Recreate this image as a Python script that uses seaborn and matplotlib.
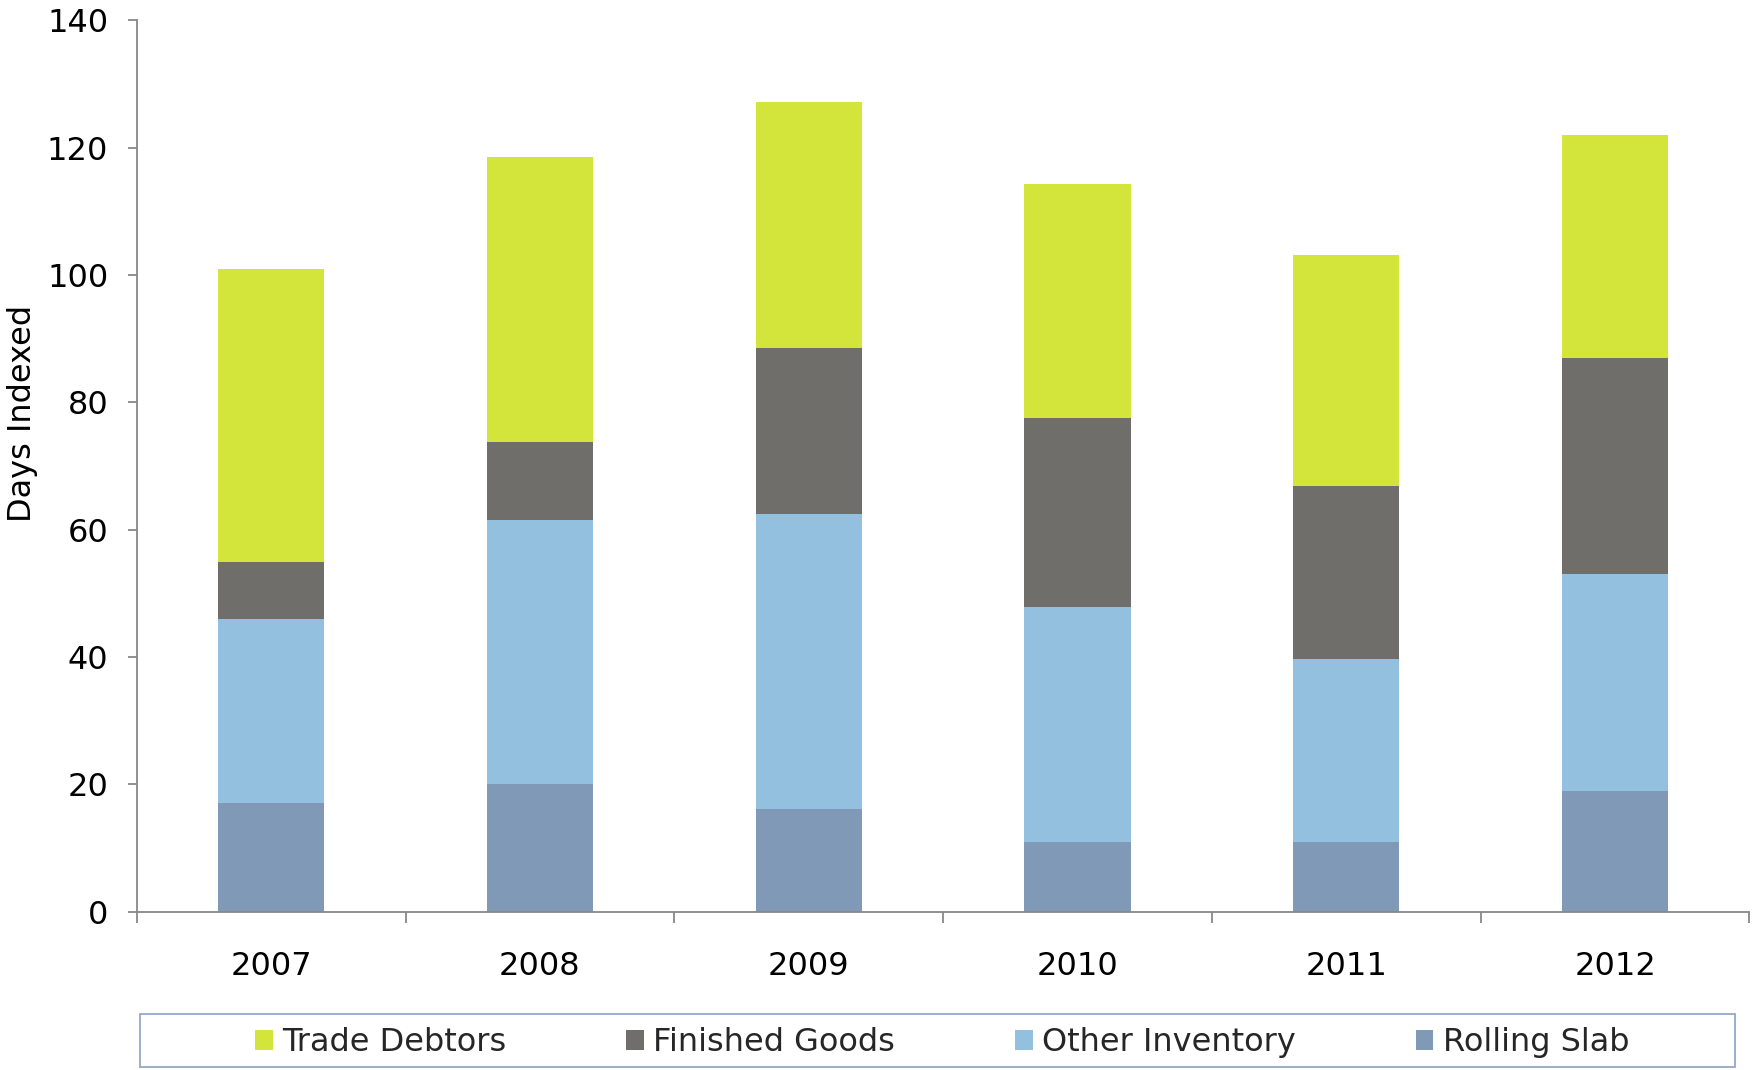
import matplotlib
matplotlib.use("Agg")
import matplotlib.pyplot as plt
from matplotlib.patches import Patch, Rectangle
import seaborn as sns
import numpy as np

# values (days indexed)
years = ["2007", "2008", "2009", "2010", "2011", "2012"]
rolling_slab = [17.0, 20.0, 16.1, 10.9, 10.9, 19.0]
other_inventory = [28.9, 41.5, 46.4, 37.0, 28.8, 34.0]
finished_goods = [9.0, 12.3, 26.0, 29.7, 27.1, 34.0]
trade_debtors = [46.1, 44.8, 38.7, 36.7, 36.4, 35.0]
y_ticks = [0, 20, 40, 60, 80, 100, 120, 140]

series_names = ["Trade Debtors", "Finished Goods", "Other Inventory", "Rolling Slab"]
colors = {"Trade Debtors": "#D3E43A", "Finished Goods": "#6F6E6B",
          "Other Inventory": "#92C0DE", "Rolling Slab": "#7F99B7"}

sns.set_style("white")
plt.rcParams['font.family'] = ['DejaVu Sans']
fs = 23

fig = plt.figure(figsize=(17.53, 10.70), dpi=100)
ax = fig.add_axes([0.078, 0.148, 0.92, 0.833])

# stack by drawing cumulative totals, tallest first
stack_bottom_up = [rolling_slab, other_inventory, finished_goods, trade_debtors]
cums = np.cumsum(np.array(stack_bottom_up), axis=0)
order_bottom_up = ["Rolling Slab", "Other Inventory", "Finished Goods", "Trade Debtors"]
for i in range(len(cums) - 1, -1, -1):
    name = order_bottom_up[i]
    sns.barplot(x=years, y=cums[i], color=colors[name], saturation=1,
                width=0.395, ax=ax, linewidth=0)

ax.set_xlim(-0.5, len(years) - 0.5)
ax.set_ylim(0, 140)
ax.set_yticks(y_ticks)
ax.set_ylabel("Days Indexed", fontsize=fs, color="black")
ax.yaxis.set_label_coords(-0.061, 0.559)
ax.set_xlabel("")

axis_col = "#888888"
for s in ["top", "right"]:
    ax.spines[s].set_visible(False)
for s in ["left", "bottom"]:
    ax.spines[s].set_color(axis_col)
    ax.spines[s].set_linewidth(1.3)

ax.tick_params(axis="y", which="major", direction="out", length=6.5, width=1.3,
               color=axis_col, labelsize=fs, labelcolor="black", pad=14, left=True)
ax.tick_params(axis="x", which="major", length=0, labelsize=fs, labelcolor="black", pad=28)
ax.set_xticks(np.arange(-0.5, len(years), 1.0), minor=True)
ax.tick_params(axis="x", which="minor", direction="out", length=8, width=1.3,
               color=axis_col, bottom=True)

# legend with its own full-width frame
fig.add_artist(Rectangle((0.08, 0.003), 0.91, 0.049, transform=fig.transFigure,
                         fill=False, edgecolor="#94A8C6", linewidth=1.3))
handles = [Patch(facecolor=colors[n], edgecolor="none", label=n) for n in series_names]
fig.legend(handles=handles, loc="center", bbox_to_anchor=(0.5375, 0.0255), ncol=4,
           frameon=False, fontsize=fs, handlelength=0.55, handleheight=0.55,
           handletextpad=0.3, columnspacing=3.75)

fig.savefig("out.png", dpi=100)
